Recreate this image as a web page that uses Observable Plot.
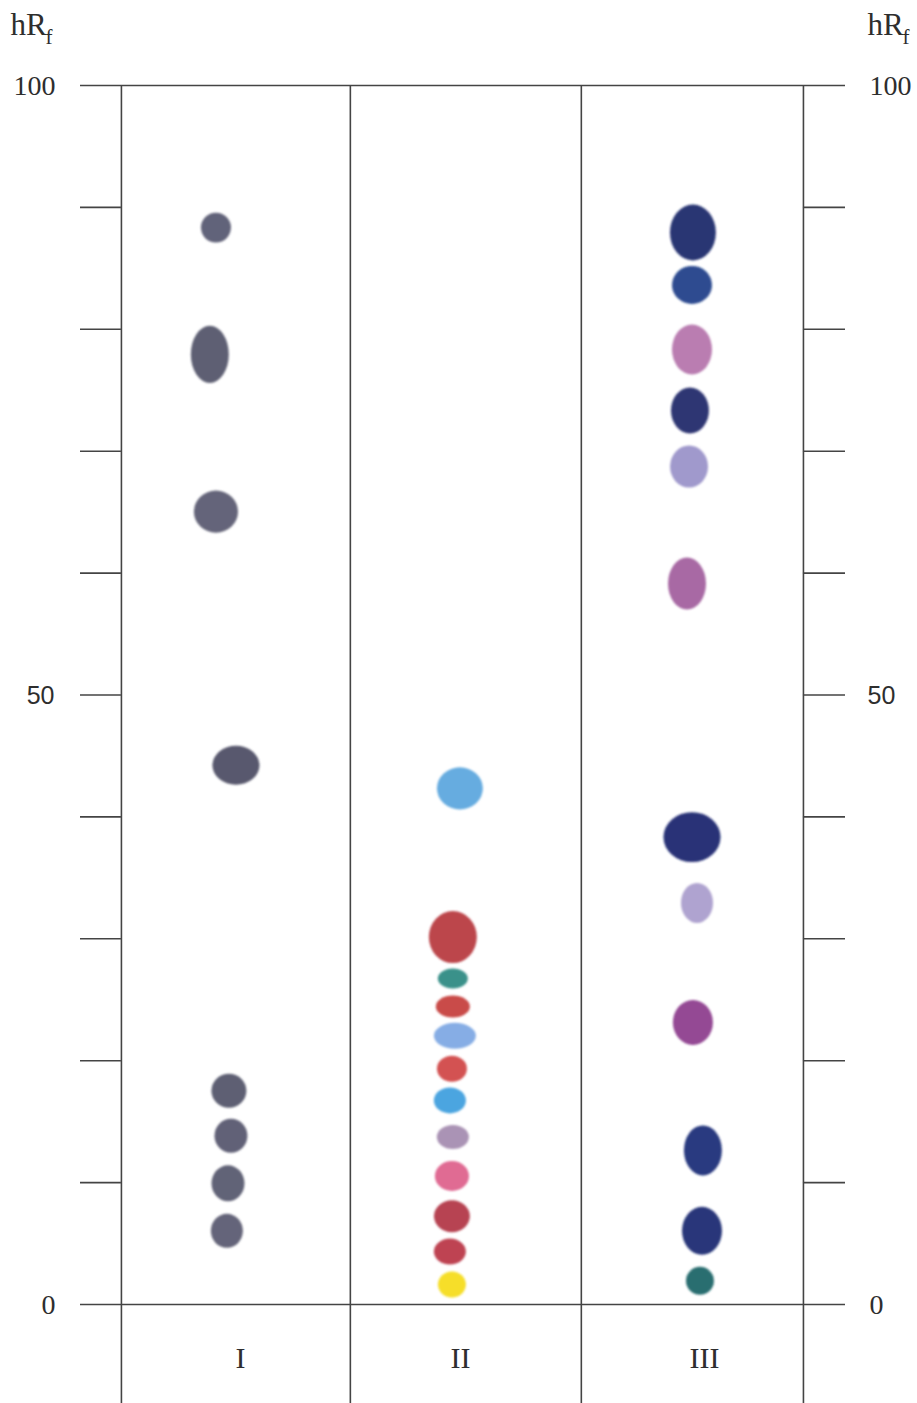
<!DOCTYPE html>
<html>
<head>
<meta charset="utf-8">
<script src="https://cdn.jsdelivr.net/npm/d3@7"></script>
<script src="https://cdn.jsdelivr.net/npm/@observablehq/plot@0.6"></script>
<style>
  html, body { margin: 0; padding: 0; background: #ffffff; }
  #chart svg { display: block; }
</style>
</head>
<body>
<div id="chart"></div>
<script>
// ---- Data ----
const lanes = ["I", "II", "III"];
const laneLabelPos = [0.524, 1.491, 2.565];        // lane-label position (lane units)
const laneBounds = [0, 1.007, 2.023, 3];            // lane separators
const axisTicks = [10, 20, 30, 40, 50, 60, 70, 80, 90];
const axisEnds = [0, 100];
const serifTickLabels = ["0", "100"];
const serifTickValues = [0, 100];
const sansTickLabels = ["50"];
const sansTickValues = [50];

// spots: lane, hRf, horizontal position (lane units), width (lane units), height (hRf units), colour
const spotLane = [
  "I","I","I","I","I","I","I","I",
  "II","II","II","II","II","II","II","II","II","II","II","II",
  "III","III","III","III","III","III","III","III","III","III","III","III"
];
const spotHRf = [
  88.3, 77.9, 65.0, 44.2, 17.5, 13.8, 9.9, 6.0,
  42.3, 30.1, 26.7, 24.4, 22.0, 19.3, 16.7, 13.7, 10.5, 7.2, 4.3, 1.6,
  87.9, 83.6, 78.3, 73.3, 68.7, 59.1, 38.3, 32.9, 23.1, 12.6, 6.0, 1.9
];
const spotPos = [
  0.418, 0.391, 0.418, 0.506, 0.475, 0.484, 0.471, 0.466,
  1.491, 1.460, 1.460, 1.460, 1.469, 1.456, 1.447, 1.460, 1.456, 1.456, 1.447, 1.456,
  2.516, 2.512, 2.512, 2.503, 2.499, 2.490, 2.512, 2.534, 2.516, 2.560, 2.556, 2.547
];
const spotWidth = [
  0.132, 0.167, 0.194, 0.207, 0.154, 0.145, 0.145, 0.141,
  0.202, 0.211, 0.132, 0.150, 0.185, 0.132, 0.141, 0.141, 0.150, 0.158, 0.141, 0.123,
  0.202, 0.176, 0.176, 0.167, 0.167, 0.167, 0.251, 0.141, 0.176, 0.167, 0.176, 0.123
];
const spotHeight = [
  2.46, 4.68, 3.45, 3.20, 2.79, 2.79, 2.95, 2.79,
  3.45, 4.27, 1.64, 1.80, 2.13, 2.13, 2.13, 1.97, 2.46, 2.63, 2.13, 2.13,
  4.59, 3.12, 4.10, 3.77, 3.45, 4.27, 4.10, 3.28, 3.69, 4.10, 3.94, 2.30
];
const spotColor = [
  "#5a5b72", "#55566c", "#5c5d72", "#4f5066", "#55566c", "#585970", "#5a5b70", "#5c5d72",
  "#5ea8de", "#b83c42", "#2f8b84", "#c6403f", "#80a9e4", "#d14848", "#41a0de", "#a58db1",
  "#de628d", "#b3394a", "#bb3a4a", "#f6dc1e",
  "#1f2a6c", "#22408a", "#b676ad", "#252d6c", "#9b93c9", "#a3619f", "#1c2670", "#ab9ecd",
  "#8e3f8e", "#1f2e78", "#1d2b72", "#1f6668"
];

const spots = spotHRf.map((v, i) => ({
  lane: spotLane[i], hRf: v, pos: spotPos[i], w: spotWidth[i], h: spotHeight[i], color: spotColor[i]
}));
const laneLabels = lanes.map((l, i) => ({lane: l, pos: laneLabelPos[i]}));

// ---- Layout ----
const xMin = -0.18, xMax = 3.185;
const serif = "'Liberation Serif', 'DejaVu Serif', serif";
const sans = "'Liberation Sans', Arial, sans-serif";
const lineColor = "#444444";
const textColor = "#2e2e2e";

const chart = Plot.plot({
  width: 917,
  height: 1403,
  marginTop: 85,
  marginBottom: 99,
  marginLeft: 80,
  marginRight: 72,
  x: {domain: [xMin, xMax], axis: null},
  y: {domain: [0, 100], axis: null},
  style: {background: "#ffffff"},
  marks: [
    // lane separators
    Plot.ruleX(laneBounds, {x: d => d, y1: 100, y2: -8.3, stroke: lineColor, strokeWidth: 1.6}),
    // 0 and 100 full lines
    Plot.ruleY(axisEnds, {y: d => d, x1: xMin, x2: xMax, stroke: lineColor, strokeWidth: 1.6}),
    // left ticks
    Plot.ruleY(axisTicks, {y: d => d, x1: xMin, x2: 0, stroke: lineColor, strokeWidth: 1.6}),
    // right ticks
    Plot.ruleY(axisTicks, {y: d => d, x1: 3, x2: xMax, stroke: lineColor, strokeWidth: 1.6}),
    // tick labels left
    Plot.text(serifTickValues, {
      x: xMin, y: d => d, text: (d, i) => serifTickLabels[i], textAnchor: "end", dx: -25, dy: 1,
      fontSize: 28, fill: textColor, fontFamily: serif
    }),
    Plot.text(sansTickValues, {
      x: xMin, y: d => d, text: (d, i) => sansTickLabels[i], textAnchor: "end", dx: -26, dy: 1,
      fontSize: 25, fill: textColor, fontFamily: sans
    }),
    // tick labels right
    Plot.text(serifTickValues, {
      x: xMax, y: d => d, text: (d, i) => serifTickLabels[i], textAnchor: "start", dx: 24, dy: 1,
      fontSize: 28, fill: textColor, fontFamily: serif
    }),
    Plot.text(sansTickValues, {
      x: xMax, y: d => d, text: (d, i) => sansTickLabels[i], textAnchor: "start", dx: 22, dy: 1,
      fontSize: 25, fill: textColor, fontFamily: sans
    }),
    // hRf titles
    Plot.text(["hR"], {x: xMin, y: 100, text: d => d, textAnchor: "start", dx: -70, dy: -60,
      fontSize: 31, fill: textColor, fontFamily: serif}),
    Plot.text(["f"], {x: xMin, y: 100, text: d => d, textAnchor: "start", dx: -35, dy: -48,
      fontSize: 21, fill: textColor, fontFamily: serif}),
    Plot.text(["hR"], {x: xMax, y: 100, text: d => d, textAnchor: "start", dx: 22, dy: -60,
      fontSize: 31, fill: textColor, fontFamily: serif}),
    Plot.text(["f"], {x: xMax, y: 100, text: d => d, textAnchor: "start", dx: 57, dy: -48,
      fontSize: 21, fill: textColor, fontFamily: serif}),
    // lane labels
    Plot.text(laneLabels, {x: "pos", y: 0, text: "lane", dy: 54, fontSize: 30,
      fill: textColor, fontFamily: serif}),
    // spots as ellipses
    Plot.dot(spots, {
      x: "pos", y: "hRf", fill: "color",
      render(index, scales, values) {
        const g = d3.create("svg:g").attr("filter", "url(#soft)");
        for (const i of index) {
          const d = spots[i];
          g.append("ellipse")
            .attr("cx", values.x[i])
            .attr("cy", values.y[i])
            .attr("rx", Math.abs(scales.x(d.w / 2) - scales.x(0)))
            .attr("ry", Math.abs(scales.y(d.h / 2) - scales.y(0)))
            .attr("fill", values.fill[i])
            .attr("fill-opacity", 0.95);
        }
        return g.node();
      }
    })
  ]
});

// soft edge filter for the spots
const svg = d3.select(chart);
const defs = svg.insert("defs", ":first-child");
defs.append("filter").attr("id", "soft")
  .attr("x", "-20%").attr("y", "-20%").attr("width", "140%").attr("height", "140%")
  .append("feGaussianBlur").attr("stdDeviation", 0.9);

document.getElementById("chart").appendChild(chart);
</script>
</body>
</html>
